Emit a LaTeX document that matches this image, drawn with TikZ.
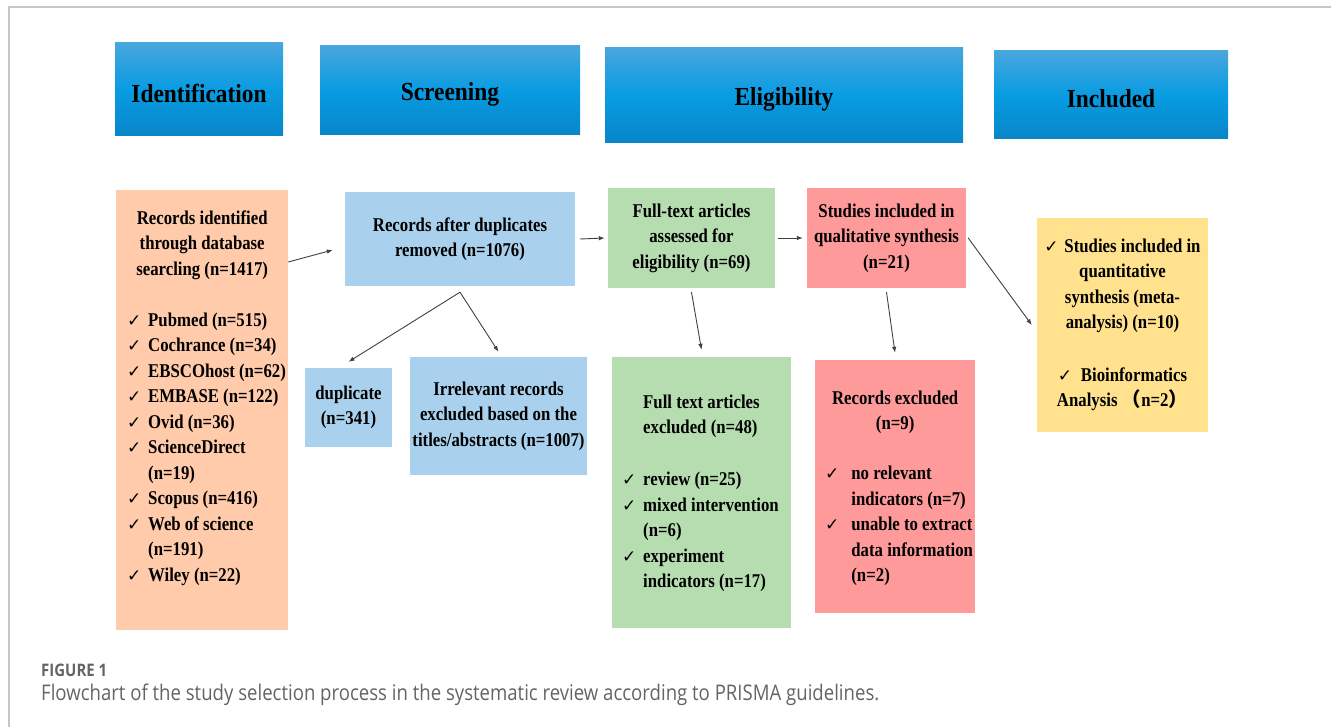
\documentclass[tikz,border=0pt]{standalone}
\usepackage{fontspec}
\usetikzlibrary{arrows.meta,calc}
\newfontfamily\bodyf[FakeStretch=0.86]{Liberation Serif}
\newfontfamily\headf[FakeStretch=0.9]{Liberation Serif}
\newfontfamily\chkf{DejaVu Sans}
\newfontfamily\cjkf{Noto Sans CJK SC}
\newfontfamily\capf{Open Sans}
\newcommand\ck[1][21pt]{\makebox[#1][l]{\chkf\fontsize{17}{17}\selectfont ✓}}
\newcommand\ind[1][21pt]{\hspace*{#1}}
\newcommand\hdtext[1]{\raisebox{-4pt}[\height][\depth]{#1}}
\definecolor{hdtop}{RGB}{72,166,222}
\definecolor{hdmid}{RGB}{8,156,226}
\definecolor{hdbot}{RGB}{8,134,200}
\definecolor{cor}{RGB}{255,203,170}
\definecolor{cbl}{RGB}{169,209,237}
\definecolor{cgr}{RGB}{182,221,176}
\definecolor{crd}{RGB}{255,154,154}
\definecolor{cye}{RGB}{255,225,142}
\definecolor{capgray}{RGB}{100,100,100}
\tikzset{
  hdr/.style={draw=none, top color=hdtop, bottom color=hdbot, middle color=hdmid,
    inner sep=0pt, font=\headf\bfseries\fontsize{26}{30}\selectfont},
  box/.style={draw=none, inner sep=0pt, align=center,
    font=\bodyf\bfseries\fontsize{19.5}{25.5}\selectfont},
  txt/.style={inner sep=0pt, align=left,
    font=\bodyf\bfseries\fontsize{19.5}{25.5}\selectfont},
  arr/.style={draw=black!75, line width=0.9pt, -{Latex[length=6pt,width=4.5pt]}},
  frame/.style={draw=black!22, line width=1.2pt},
}
\begin{document}
\begin{tikzpicture}[x=1pt,y=-1pt]
\useasboundingbox (0,0) rectangle (1331,727);
\draw[frame] (9,727) -- (9,7) -- (1331,7);
% headers
\node[hdr, minimum width=168pt, minimum height=93pt] (idh) at (199,89.5) {\hdtext{Identification}};
\node[hdr, minimum width=260pt, minimum height=89pt] (sch) at (450,90.5) {\hdtext{Screening}};
\node[hdr, minimum width=358pt, minimum height=95pt] (elh) at (784,95.5) {\hdtext{Eligibility}};
\node[hdr, minimum width=234pt, minimum height=88pt] (inh) at (1111,95) {\hdtext{Included}};
% boxes
\node[box, fill=cor, minimum width=172pt, minimum height=440pt] (rec) at (202,410) {};
\node[txt, anchor=west] (rect) at (127,398) {\makebox[150pt]{Records identified}\\
  \makebox[150pt]{through database}\\
  \makebox[150pt]{searcling (n=1417)}\\[25.5pt]
  \ck Pubmed (n=515)\\
  \ck Cochrance (n=34)\\
  \ck EBSCOhost (n=62)\\
  \ck EMBASE (n=122)\\
  \ck Ovid (n=36)\\
  \ck ScienceDirect\\
  \ind (n=19)\\
  \ck Scopus (n=416)\\
  \ck Web of science\\
  \ind (n=191)\\
  \ck Wiley (n=22)};
\node[box, fill=cbl, minimum width=230pt, minimum height=94pt] (rad) at (460,239) {Records after duplicates\\ removed (n=1076)};
\node[box, fill=cbl, minimum width=87pt, minimum height=79pt] (dup) at (348.5,407.5) {duplicate\\ (n=341)};
\node[box, fill=cbl, minimum width=177pt, minimum height=118pt] (irr) at (498.5,416) {Irrelevant records\\ excluded based on the\\ titles/abstracts (n=1007)};
\node[box, fill=cgr, minimum width=167pt, minimum height=100pt] (ft) at (691.5,238) {Full-text articles\\ assessed for\\ eligibility (n=69)};
\node[box, fill=crd, minimum width=159pt, minimum height=100pt] (st) at (886.5,238) {Studies included in\\ qualitative synthesis\\ (n=21)};
\node[box, fill=cgr, minimum width=179pt, minimum height=271pt] (fte) at (701.5,492.5) {};
\node[txt, anchor=west] (ftet) at (622,493.5) {\ind Full text articles\\
  \ind excluded (n=48)\\[26.5pt]
  \ck review (n=25)\\
  \ck mixed intervention\\
  \ind (n=6)\\
  \ck experiment\\
  \ind indicators (n=17)};
\node[box, fill=crd, minimum width=160pt, minimum height=253pt] (rex) at (895,486.5) {};
\node[txt, anchor=west] (rext) at (825,488.5) {\makebox[140pt]{Records excluded}\\
  \makebox[140pt]{(n=9)}\\[24.5pt]
  \ck[22pt] no relevant\\
  \ind[22pt] indicators (n=7)\\
  \ck[22pt] unable to extract\\
  \ind[22pt] data information\\
  \ind[22pt] (n=2)};
\node[box, fill=cye, minimum width=171pt, minimum height=214pt] (yel) at (1122.5,325) {\ck[20pt]Studies included in\\
  quantitative\\
  synthesis (meta-\\
  analysis) (n=10)\\[27pt]
  \ck[23pt]Bioinformatics\\
  Analysis {\cjkf （}n=2{\cjkf ）}};
% arrows
\draw[arr] ([yshift=148pt]rec.east) -- ([xshift=-12pt,yshift=-11pt]rad.west);
\draw[arr] ([xshift=5pt]rad.east) -- ([xshift=-3pt]ft.west);
\draw[arr] ([yshift=-6pt]rad.south) -- ([yshift=6pt]dup.north);
\draw[arr] ([yshift=-6pt]rad.south) -- ([yshift=5pt]irr.north);
\draw[arr] ([yshift=-4pt]ft.south) -- ([yshift=7pt]fte.north);
\draw[arr] ([xshift=3pt]ft.east) -- ([xshift=-4pt]st.west);
\draw[arr] ([yshift=-4pt]st.south) -- ([yshift=7pt]rex.north);
\draw[arr] ([xshift=2pt]st.east) -- ([xshift=-5pt]yel.west);
% caption
\node[anchor=west, inner sep=0pt, text=capgray] (figlab) at (41,670) {\resizebox{66pt}{12.5pt}{\capf\bfseries FIGURE 1}};
\node[anchor=west, inner sep=0pt, text=capgray] (cap) at (41,695) {\resizebox{838pt}{16.5pt}{\capf Flowchart of the study selection process in the systematic review according to PRISMA guidelines.}};
\end{tikzpicture}
\end{document}
